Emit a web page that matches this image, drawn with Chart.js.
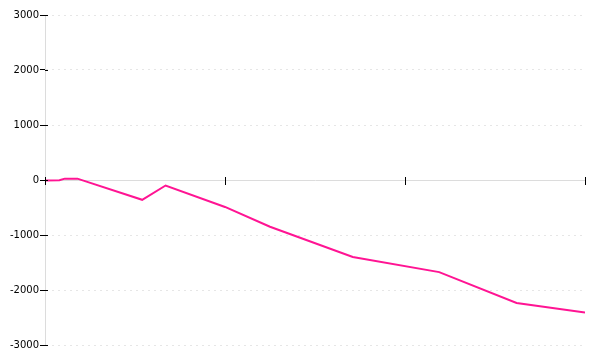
<!DOCTYPE html>
<html>
<head>
<meta charset="utf-8">
<script src="https://cdn.jsdelivr.net/npm/chart.js@4"></script>
<style>
    html, body { margin: 0; padding: 0; background: #fff; }
    #wrap { width: 600px; height: 360px; }
</style>
</head>
<body>
<div id="wrap"><canvas id="lineChart"></canvas></div>
<script>
// data
const xValues = [0, 0.8, 1.1, 1.8, 5.4, 6.7, 10, 12.5, 17.1, 21.9, 26.2, 30];
const yValues = [-10, -5, 25, 25, -360, -100, -490, -850, -1400, -1675, -2235, -2410];
const yTicks = [-3000, -2000, -1000, 0, 1000, 2000, 3000];
const xTicks = [0, 10, 20, 30];

// draws the little black marks that cross the axes
const crossTicks = {
    id: 'crossTicks',
    afterDraw(chart) {
        let ctx = chart.ctx;
        let x = chart.scales.x;
        let y = chart.scales.y;
        let y0 = y.getPixelForValue(0);
        ctx.save();
        ctx.strokeStyle = '#000';
        ctx.lineWidth = 1;
        ctx.beginPath();
        for (let i = 0; i < x.ticks.length; i++) {
            let px = Math.round(x.getPixelForValue(x.ticks[i].value)) + 0.5;
            ctx.moveTo(px, y0 - 3);
            ctx.lineTo(px, y0 + 5);
        }
        for (let i = 0; i < y.ticks.length; i++) {
            let py = Math.round(y.getPixelForValue(y.ticks[i].value)) + 0.5;
            ctx.moveTo(y.right, py);
            ctx.lineTo(y.right + 3, py);
        }
        ctx.stroke();
        ctx.restore();
    }
};

new Chart(document.getElementById('lineChart'), {
    type: 'line',
    data: {
        datasets: [{
            data: xValues.map((v, i) => ({ x: v, y: yValues[i] })),
            borderColor: 'rgb(255,20,147)',
            borderWidth: 2,
            pointRadius: 0,
            tension: 0,
            fill: false
        }]
    },
    options: {
        responsive: true,
        maintainAspectRatio: false,
        animation: false,
        layout: { padding: { top: 15, right: 15, bottom: 15, left: 0 } },
        plugins: {
            legend: { display: false },
            tooltip: { enabled: false }
        },
        scales: {
            x: {
                type: 'linear',
                min: xTicks[0],
                max: xTicks[xTicks.length - 1],
                position: { y: 0 },
                afterBuildTicks: (scale) => { scale.ticks = xTicks.map(v => ({ value: v })); },
                ticks: { display: false },
                grid: { display: false },
                border: { display: true, color: '#dcdcdc', width: 1 }
            },
            y: {
                min: yTicks[0],
                max: yTicks[yTicks.length - 1],
                afterBuildTicks: (scale) => { scale.ticks = yTicks.map(v => ({ value: v })); },
                afterFit: (scale) => { scale.width = 45; },
                ticks: {
                    color: '#000',
                    padding: 1,
                    font: { family: 'DejaVu Sans', size: 10 },
                    callback: (v) => String(v)
                },
                grid: {
                    color: '#e6e6e6',
                    tickColor: '#000',
                    tickLength: 5
                },
                border: { display: true, color: '#dcdcdc', width: 1, dash: [2, 4] }
            }
        }
    },
    plugins: [crossTicks]
});
</script>
</body>
</html>
